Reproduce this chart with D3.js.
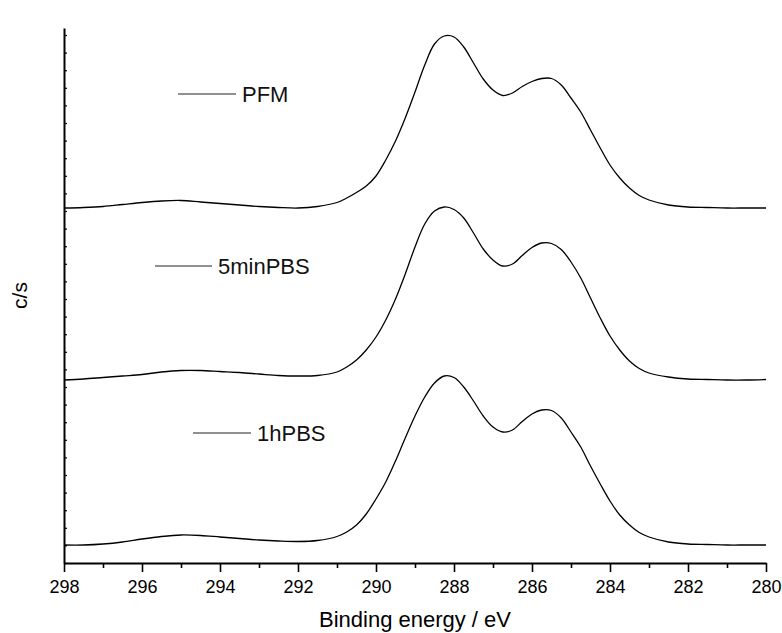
<!DOCTYPE html>
<html>
<head>
<meta charset="utf-8">
<script src="https://cdn.jsdelivr.net/npm/d3@7"></script>
<style>
  body { margin: 0; background: #fff; }
  svg { display: block; font-family: Arial, "Liberation Sans", sans-serif; }
</style>
</head>
<body>
<svg id="chart" width="782" height="633"></svg>
<script>
// binding energy (eV), shared by all three spectra
const energies = [
  298, 297.5, 297, 296.5, 296, 295.5, 295, 294.5, 294, 293.5, 293, 292.5, 292, 291.5, 291,
  290.75, 290.5, 290.25, 290, 289.75, 289.5, 289.25, 289, 288.75, 288.5, 288.25, 288,
  287.75, 287.5, 287.25, 287, 286.75, 286.5, 286.25, 286, 285.75, 285.5, 285.25, 285,
  284.75, 284.5, 284.25, 284, 283.75, 283.5, 283.25, 283,
  282.5, 282, 281.5, 281, 280.5, 280
];

// stacked intensities (c/s, arbitrary units)
const pfm = [
  355, 355.5, 356.5, 358.5, 360.5, 362, 362.5, 361, 359.5, 358, 356.5, 355.5, 355, 356.5, 360.5,
  365, 370.5, 377, 387, 403, 422, 445, 471, 498, 519, 527, 526,
  516, 500, 484, 473, 467.5, 470, 476.5, 481.5, 484.5, 484.5, 478, 465,
  451, 433, 415, 398, 385, 375, 367.5, 363,
  358, 356, 355.5, 355, 355, 355
];
const minPBS5 = [
  183, 184, 185.5, 187, 188.5, 191, 192.5, 192.5, 191.5, 190.5, 189, 187.5, 187, 187.5, 191,
  196, 203, 213, 226, 243, 264, 289, 316, 339, 352, 356, 353.5,
  345, 330, 314, 303, 297, 299, 307.5, 315.5, 320, 319.5, 313.5, 301,
  285, 265, 245, 227, 213, 202, 194.5, 190,
  186, 184, 183.5, 183, 183, 183.5
];
const hPBS1 = [
  18, 18, 19, 21, 24, 26.5, 28, 27.5, 26, 24.5, 23, 22, 21.5, 22.5, 26.5,
  31, 38, 49, 64, 81, 102, 125, 147, 166, 180, 187, 185.5,
  176, 162, 147, 136, 131, 133, 141.5, 149, 153, 152.5, 145, 131,
  116, 97, 79, 62, 48, 38, 30.5, 26,
  21, 19, 18.5, 18, 18, 18
];

const seriesNames = ['PFM', '5minPBS', '1hPBS'];
const xMajorTicks = [298, 296, 294, 292, 290, 288, 286, 284, 282, 280];
const xMinorTicks = [297, 295, 293, 291, 289, 287, 285, 283, 281];

const series = [pfm, minPBS5, hPBS1].map((vals, i) => ({
  name: seriesNames[i],
  points: energies.map((e, j) => ({ e: e, v: vals[j] }))
}));

// legend placement (px)
const legendPos = [
  { x1: 178, x2: 236, y: 94 },
  { x1: 155, x2: 212, y: 266 },
  { x1: 193, x2: 251, y: 433 }
];

const margin = { top: 28, left: 64, right: 16, bottom: 70 };
const svg = d3.select('#chart');
const W = +svg.attr('width'), H = +svg.attr('height');

const x = d3.scaleLinear().domain([298, 280]).range([margin.left, W - margin.right]);
const y = d3.scaleLinear().domain([0, 535]).range([H - margin.bottom, margin.top]);

// curves
const line = d3.line()
  .x(d => x(d.e))
  .y(d => y(d.v))
  .curve(d3.curveCatmullRom.alpha(0.5));

svg.append('g')
  .selectAll('path')
  .data(series)
  .join('path')
    .attr('fill', 'none')
    .attr('stroke', '#000')
    .attr('stroke-width', 1.3)
    .attr('d', d => line(d.points));

// x axis
const xAxis = svg.append('g')
  .attr('transform', `translate(0,${y(0)})`)
  .call(d3.axisBottom(x).tickValues(xMajorTicks).tickSize(9).tickSizeOuter(0).tickFormat(d3.format('d')));
xAxis.select('.domain').attr('stroke-width', 2);
xAxis.selectAll('.tick line').attr('stroke-width', 1.6);
xAxis.selectAll('.tick text')
  .attr('y', 17)
  .style('font-size', '18px')
  .style('font-family', 'Arial, "Liberation Sans", sans-serif')
  .attr('fill', '#000');

const xMinor = svg.append('g')
  .attr('transform', `translate(0,${y(0)})`)
  .call(d3.axisBottom(x).tickValues(xMinorTicks).tickSize(5).tickFormat(''));
xMinor.select('.domain').remove();
xMinor.selectAll('.tick line').attr('stroke-width', 1.6);

// y axis, ticks inward, no labels
const yAxis = svg.append('g')
  .attr('transform', `translate(${x(298)},0)`)
  .call(d3.axisRight(y).tickValues(d3.range(0, 530, 17.6)).tickSize(3).tickSizeOuter(0).tickFormat(''));
yAxis.select('.domain').attr('stroke-width', 2);
yAxis.selectAll('.tick line').attr('stroke-width', 1.2);

// axis titles
svg.append('text')
  .attr('x', (x(298) + x(280)) / 2)
  .attr('y', 627)
  .attr('text-anchor', 'middle')
  .style('font-size', '22px')
  .text('Binding energy / eV');

svg.append('text')
  .attr('transform', `translate(27,${(y(0) + y(535)) / 2}) rotate(-90)`)
  .attr('text-anchor', 'middle')
  .style('font-size', '21px')
  .text('c/s');

// legend labels
const legend = svg.append('g')
  .selectAll('g')
  .data(series)
  .join('g');

legend.append('line')
  .attr('x1', (d, i) => legendPos[i].x1)
  .attr('x2', (d, i) => legendPos[i].x2)
  .attr('y1', (d, i) => legendPos[i].y)
  .attr('y2', (d, i) => legendPos[i].y)
  .attr('stroke', '#222')
  .attr('stroke-width', 1);

legend.append('text')
  .attr('x', (d, i) => legendPos[i].x2 + 6)
  .attr('y', (d, i) => legendPos[i].y + 8)
  .style('font-size', '22px')
  .attr('fill', '#111')
  .text(d => d.name);
</script>
</body>
</html>
